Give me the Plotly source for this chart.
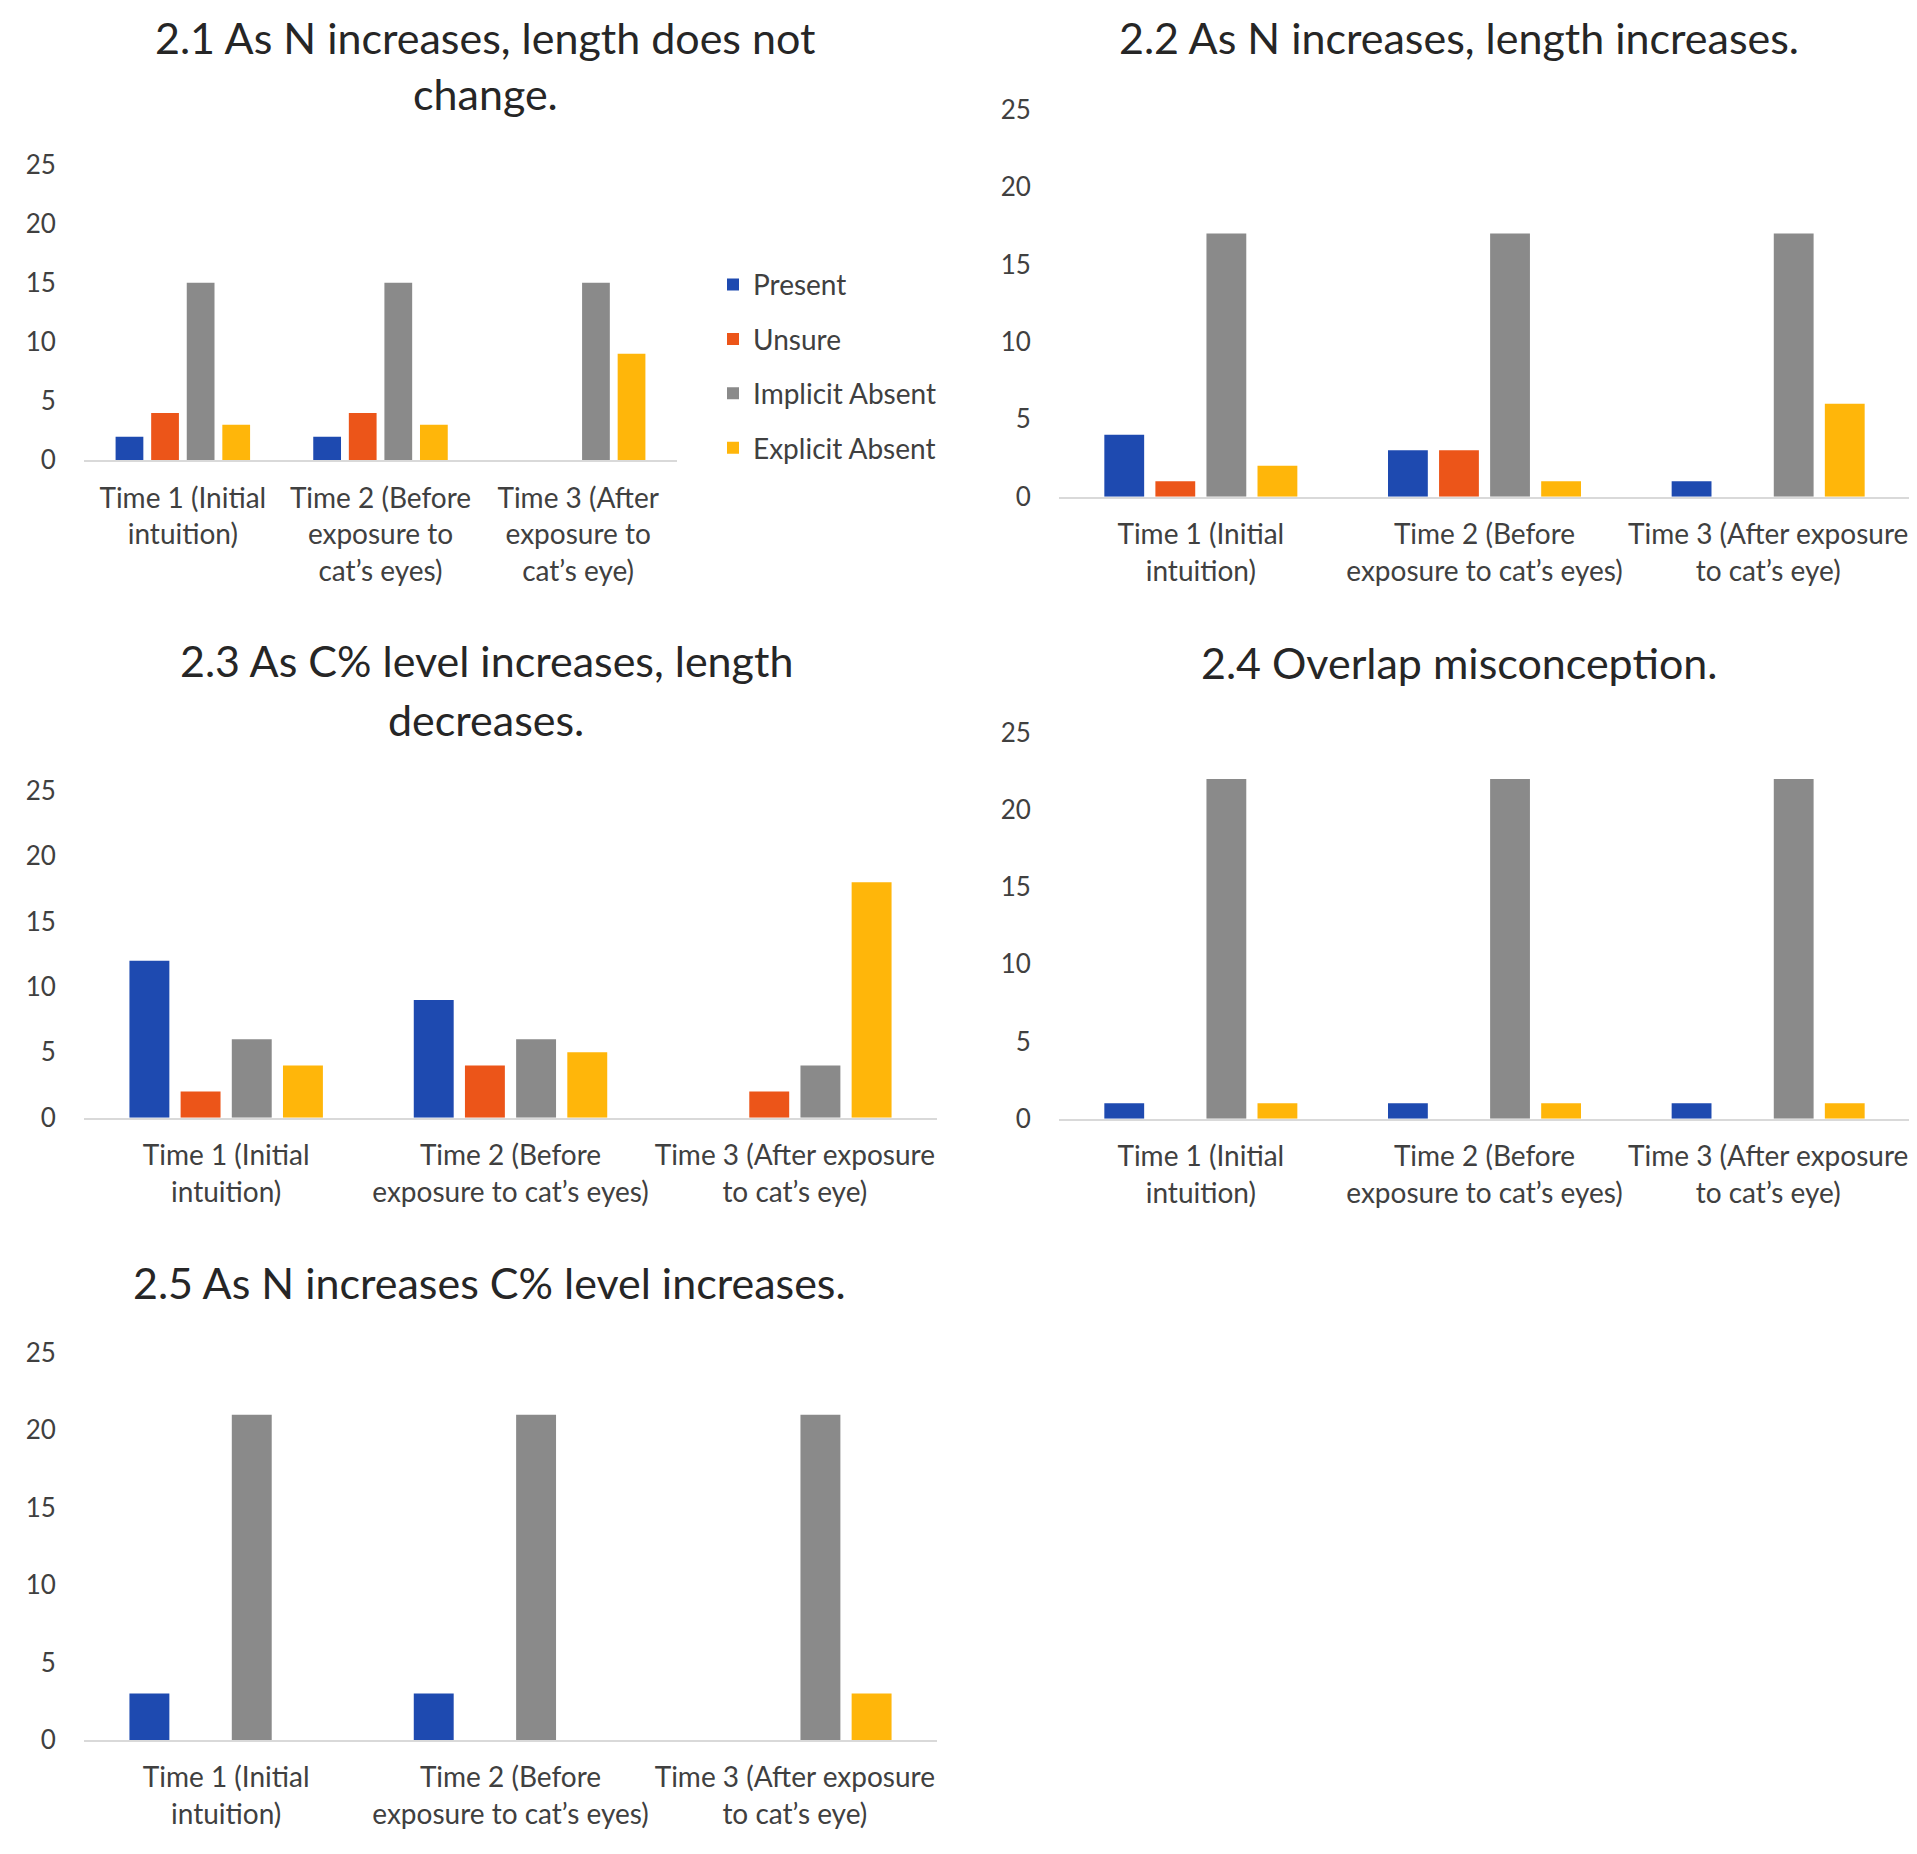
import plotly.graph_objects as go

W, H = 1917, 1854

series = ["Present", "Unsure", "Implicit Absent", "Explicit Absent"]
colors = ["#1E4AB0", "#EC5519", "#8A8A8A", "#FFB60A"]

cats_narrow = ["Time 1 (Initial<br>intuition)",
               "Time 2 (Before<br>exposure to<br>cat’s eyes)",
               "Time 3 (After<br>exposure to<br>cat’s eye)"]
cats_wide = ["Time 1 (Initial<br>intuition)",
             "Time 2 (Before<br>exposure to cat’s eyes)",
             "Time 3 (After exposure<br>to cat’s eye)"]

# 2.1 As N increases, length does not change.
p21_present = [2, 2, 0]
p21_unsure = [4, 4, 0]
p21_implicit = [15, 15, 15]
p21_explicit = [3, 3, 9]

# 2.2 As N increases, length increases.
p22_present = [4, 3, 1]
p22_unsure = [1, 3, 0]
p22_implicit = [17, 17, 17]
p22_explicit = [2, 1, 6]

# 2.3 As C% level increases, length decreases.
p23_present = [12, 9, 0]
p23_unsure = [2, 4, 2]
p23_implicit = [6, 6, 4]
p23_explicit = [4, 5, 18]

# 2.4 Overlap misconception.
p24_present = [1, 1, 1]
p24_unsure = [0, 0, 0]
p24_implicit = [22, 22, 22]
p24_explicit = [1, 1, 1]

# 2.5 As N increases C% level increases.
p25_present = [3, 3, 0]
p25_unsure = [0, 0, 0]
p25_implicit = [21, 21, 21]
p25_explicit = [0, 0, 3]

y_ticks = [0, 5, 10, 15, 20, 25]

panels = [
    dict(title=["2.1 As N increases, length does not", "change."], title_y=[13, 70], title_x=477,
         cats=cats_narrow, data=[p21_present, p21_unsure, p21_implicit, p21_explicit],
         xd=(76, 669), yd=(142, 443)),
    dict(title=["2.2 As N increases, length increases."], title_y=[13], title_x=1451,
         cats=cats_wide, data=[p22_present, p22_unsure, p22_implicit, p22_explicit],
         xd=(1051, 1902), yd=(86, 480)),
    dict(title=["2.3 As C% level increases, length", "decreases."], title_y=[647, 707], title_x=478,
         cats=cats_wide, data=[p23_present, p23_unsure, p23_implicit, p23_explicit],
         xd=(76, 929), yd=(779, 1112)),
    dict(title=["2.4 Overlap misconception."], title_y=[649], title_x=1451,
         cats=cats_wide, data=[p24_present, p24_unsure, p24_implicit, p24_explicit],
         xd=(1051, 1902), yd=(720, 1113)),
    dict(title=["2.5 As N increases C% level increases."], title_y=[1280], title_x=481,
         cats=cats_wide, data=[p25_present, p25_unsure, p25_implicit, p25_explicit],
         xd=(76, 929), yd=(1351, 1745)),
]

FONT = "Lato"
fig = go.Figure()
annotations = []
layout_axes = {}

for i, p in enumerate(panels, start=1):
    xa = "x" if i == 1 else f"x{i}"
    ya = "y" if i == 1 else f"y{i}"
    for s, (name, vals) in enumerate(zip(series, p["data"])):
        fig.add_trace(go.Bar(
            x=p["cats"], y=vals, name=name, xaxis=xa, yaxis=ya,
            marker=dict(color=colors[s], line=dict(width=0)),
            legendgroup=name, showlegend=(i == 1),
        ))
    layout_axes[f"xaxis{'' if i == 1 else i}"] = dict(
        domain=[p["xd"][0] / W, p["xd"][1] / W], anchor=ya, type="category",
        showline=True, linecolor="#D9D9D9", linewidth=2, showgrid=False, zeroline=False,
        ticks="outside", ticklen=12, tickcolor="rgba(0,0,0,0)", tickangle=0,
        tickfont=dict(family=FONT, size=28, color="#404040"), fixedrange=True,
    )
    layout_axes[f"yaxis{'' if i == 1 else i}"] = dict(
        domain=[1 - p["yd"][1] / H, 1 - p["yd"][0] / H], anchor=xa,
        range=[0, 25], tickvals=y_ticks, showgrid=False, zeroline=False, showline=False,
        ticks="outside", ticklen=22, tickcolor="rgba(0,0,0,0)",
        tickfont=dict(family=FONT, size=26, color="#404040"), fixedrange=True,
    )
    for line, ty in zip(p["title"], p["title_y"]):
        annotations.append(dict(
            text=line, xref="paper", yref="paper", x=p["title_x"] / W, y=1 - ty / H,
            xanchor="center", yanchor="middle", showarrow=False,
            font=dict(family=FONT, size=43, color="#262626"),
        ))

fig.update_layout(
    width=W, height=H, autosize=False,
    margin=dict(l=0, r=0, t=0, b=0),
    paper_bgcolor="white", plot_bgcolor="white",
    barmode="group", bargap=0.28, bargroupgap=0.22,
    font=dict(family=FONT, color="#404040"),
    legend=dict(x=705 / W, y=1 - 239 / H, xanchor="left", yanchor="top",
                font=dict(family=FONT, size=28, color="#404040"),
                tracegroupgap=15, itemwidth=30, bgcolor="rgba(0,0,0,0)"),
    annotations=annotations,
    **layout_axes,
)

fig.write_html("out.html")
